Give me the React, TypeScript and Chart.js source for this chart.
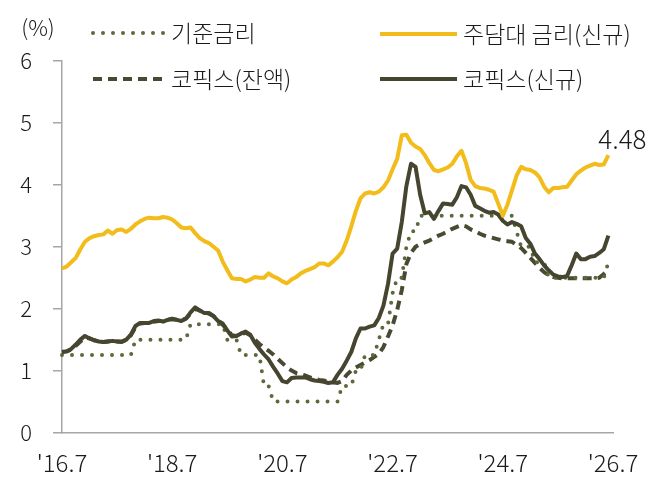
import { useEffect, useRef } from 'react';
import { Chart, registerables } from 'chart.js';
import type { Plugin } from 'chart.js';

Chart.register(...registerables);

const FONT = '"Noto Sans CJK KR", "Noto Sans", sans-serif';
const TEXT = '#1a1a1a';
const AXIS = '#a6a6a6';

// monthly categories from '16.7 to '26.7
const months: string[] = [];
for (let y = 16; y <= 26; y++) {
	for (let m = 1; m <= 12; m++) {
		if ((y === 16 && m < 7) || (y === 26 && m > 7)) continue;
		months.push(`'${y}.${m}`);
	}
}
const tickLabels = ["'16.7", "'18.7", "'20.7", "'22.7", "'24.7", "'26.7"];

const seriesNames = ['주담대 금리(신규)', '코픽스(신규)', '기준금리', '코픽스(잔액)'];

// 주담대 금리(신규), from '16.7 monthly
const mortgageNew = [
	2.65, 2.68, 2.75, 2.82, 2.96, 3.08, 3.14, 3.17, 3.19, 3.2, 3.26, 3.21,
	3.27, 3.28, 3.24, 3.29, 3.36, 3.41, 3.45, 3.47, 3.46, 3.46, 3.48, 3.47,
	3.44, 3.38, 3.31, 3.3, 3.31, 3.22, 3.14, 3.09, 3.06, 3.0, 2.94, 2.76,
	2.62, 2.49, 2.48, 2.48, 2.44, 2.47, 2.51, 2.5, 2.5, 2.57, 2.52, 2.49,
	2.44, 2.41, 2.47, 2.51, 2.57, 2.61, 2.64, 2.67, 2.73, 2.73, 2.7, 2.76,
	2.83, 2.92, 3.1, 3.33, 3.58, 3.78, 3.86, 3.88, 3.86, 3.89, 3.96, 4.07,
	4.25, 4.42, 4.8, 4.81, 4.68, 4.62, 4.58, 4.48, 4.35, 4.24, 4.22, 4.25,
	4.28, 4.34, 4.46, 4.55, 4.35, 4.08, 3.98, 3.95, 3.94, 3.92, 3.89, 3.7,
	3.5, 3.68, 3.91, 4.15, 4.29, 4.25, 4.24, 4.2, 4.12, 3.97, 3.88, 3.95,
	3.95, 3.96, 3.97, 4.07, 4.17, 4.23, 4.28, 4.31, 4.34, 4.32, 4.33, 4.48,
];

// 코픽스(신규)
const cofixNew = [
	1.3, 1.31, 1.35, 1.42, 1.5, 1.56, 1.52, 1.49, 1.47, 1.46, 1.47, 1.48,
	1.47, 1.46, 1.5, 1.58, 1.72, 1.77, 1.77, 1.77, 1.8, 1.81, 1.79, 1.82,
	1.84, 1.82, 1.8, 1.84, 1.94, 2.02, 1.97, 1.93, 1.93, 1.88, 1.8, 1.76,
	1.65, 1.55, 1.56, 1.6, 1.63, 1.58, 1.45, 1.35, 1.26, 1.18, 1.06, 0.95,
	0.83, 0.81, 0.88, 0.89, 0.89, 0.89, 0.86, 0.84, 0.83, 0.82, 0.8, 0.81,
	0.93, 1.03, 1.16, 1.3, 1.52, 1.68, 1.68, 1.71, 1.73, 1.85, 2.05, 2.4,
	2.89, 2.97, 3.4, 3.98, 4.34, 4.29, 3.84, 3.54, 3.56, 3.45, 3.58, 3.7,
	3.69, 3.68, 3.8, 3.98, 3.96, 3.84, 3.66, 3.62, 3.58, 3.55, 3.56, 3.52,
	3.42, 3.36, 3.4, 3.37, 3.33, 3.14, 3.05, 2.89, 2.8, 2.7, 2.62, 2.55,
	2.52, 2.51, 2.53, 2.7, 2.89, 2.8, 2.8, 2.84, 2.85, 2.9, 2.96, 3.18,
];

// 기준금리
const baseRate = [
	1.25, 1.25, 1.25, 1.25, 1.25, 1.25, 1.25, 1.25, 1.25, 1.25, 1.25, 1.25,
	1.25, 1.25, 1.25, 1.25, 1.5, 1.5, 1.5, 1.5, 1.5, 1.5, 1.5, 1.5,
	1.5, 1.5, 1.5, 1.5, 1.75, 1.75, 1.75, 1.75, 1.75, 1.75, 1.75, 1.75,
	1.5, 1.5, 1.5, 1.25, 1.25, 1.25, 1.25, 1.25, 0.75, 0.75, 0.5, 0.5,
	0.5, 0.5, 0.5, 0.5, 0.5, 0.5, 0.5, 0.5, 0.5, 0.5, 0.5, 0.5,
	0.5, 0.75, 0.75, 0.75, 1.0, 1.0, 1.25, 1.25, 1.25, 1.5, 1.75, 1.75,
	2.25, 2.5, 2.5, 3.0, 3.25, 3.25, 3.5, 3.5, 3.5, 3.5, 3.5, 3.5,
	3.5, 3.5, 3.5, 3.5, 3.5, 3.5, 3.5, 3.5, 3.5, 3.5, 3.5, 3.5,
	3.5, 3.5, 3.5, 3.25, 3.0, 3.0, 3.0, 2.75, 2.75, 2.75, 2.5, 2.5,
	2.5, 2.5, 2.5, 2.5, 2.5, 2.5, 2.5, 2.5, 2.5, 2.5, 2.5, 2.75,
];

// 코픽스(잔액)
const cofixBalance = [
	1.3, 1.31, 1.34, 1.4, 1.47, 1.53, 1.52, 1.49, 1.47, 1.46, 1.47, 1.48,
	1.47, 1.47, 1.5, 1.57, 1.7, 1.76, 1.77, 1.77, 1.79, 1.8, 1.8, 1.82,
	1.83, 1.82, 1.81, 1.84, 1.92, 2.0, 1.97, 1.93, 1.92, 1.88, 1.81, 1.74,
	1.66, 1.57, 1.56, 1.59, 1.61, 1.57, 1.5, 1.43, 1.37, 1.32, 1.26, 1.19,
	1.12, 1.05, 1.0, 0.96, 0.94, 0.92, 0.89, 0.87, 0.85, 0.84, 0.82, 0.81,
	0.8, 0.83, 0.93, 1.0, 1.05, 1.09, 1.13, 1.17, 1.22, 1.27, 1.38, 1.55,
	1.73, 1.98, 2.3, 2.72, 2.9, 3.0, 3.04, 3.07, 3.1, 3.14, 3.18, 3.21,
	3.25, 3.29, 3.32, 3.35, 3.33, 3.28, 3.25, 3.21, 3.18, 3.16, 3.14, 3.12,
	3.1, 3.09, 3.08, 3.03, 2.98, 2.9, 2.82, 2.74, 2.66, 2.59, 2.54, 2.51,
	2.5, 2.49, 2.49, 2.49, 2.49, 2.49, 2.49, 2.49, 2.49, 2.5, 2.56, 2.63,
];

// legend sample positions, same order as datasets
const legendSlots = [
	{ x: 380, y: 34, len: 77 },
	{ x: 380, y: 79, len: 77 },
	{ x: 93, y: 33, len: 72 },
	{ x: 93, y: 79, len: 72 },
];

const overlay: Plugin<'line'> = {
	id: 'overlay',
	afterDraw(chart) {
		const { ctx } = chart;
		ctx.save();
		ctx.fillStyle = TEXT;
		ctx.textBaseline = 'middle';
		ctx.textAlign = 'center';
		ctx.font = `300 22px ${FONT}`;
		ctx.fillText('(%)', 38, 28);

		ctx.font = `300 23px ${FONT}`;
		ctx.textAlign = 'left';
		chart.data.datasets.forEach((ds: any, i) => {
			const s = legendSlots[i];
			ctx.save();
			ctx.strokeStyle = ds.borderColor;
			ctx.lineWidth = ds.borderWidth;
			ctx.setLineDash(ds.borderDash ?? []);
			ctx.lineCap = ds.borderCapStyle ?? 'butt';
			ctx.beginPath();
			ctx.moveTo(s.x, s.y);
			ctx.lineTo(s.x + s.len, s.y);
			ctx.stroke();
			ctx.restore();
			ctx.fillText(ds.label, s.x + s.len + 6, s.y);
		});

		// last value of 주담대 금리
		const meta = chart.getDatasetMeta(0);
		const last = meta.data[meta.data.length - 1];
		const v = mortgageNew[mortgageNew.length - 1];
		ctx.font = `300 26px ${FONT}`;
		ctx.textAlign = 'center';
		ctx.fillText(v.toFixed(2), last.x + 14, last.y - 16);
		ctx.restore();
	},
};

export default function App() {
	const chartRef = useRef<HTMLCanvasElement>(null);

	useEffect(() => {
		if (!chartRef.current) return;
		const chart = new Chart(chartRef.current, {
			type: 'line',
			data: {
				labels: months,
				datasets: [
					{ label: seriesNames[0], data: mortgageNew, borderColor: '#F2BC1B', borderWidth: 4 },
					{ label: seriesNames[1], data: cofixNew, borderColor: '#46452F', borderWidth: 4 },
					{
						label: seriesNames[2],
						data: baseRate,
						borderColor: '#5A6A3A',
						borderWidth: 4,
						borderDash: [0, 10],
						borderCapStyle: 'round',
					},
					{
						label: seriesNames[3],
						data: cofixBalance,
						borderColor: '#4A4931',
						borderWidth: 4,
						borderDash: [9, 6],
					},
				],
			},
			options: {
				responsive: true,
				maintainAspectRatio: false,
				animation: false,
				layout: { padding: { top: 61, right: 43, left: 0, bottom: 0 } },
				plugins: { legend: { display: false }, tooltip: { enabled: false } },
				elements: {
					point: { radius: 0 },
					line: { tension: 0, borderJoinStyle: 'round' },
				},
				scales: {
					x: {
						type: 'category',
						offset: false,
						grid: { display: false, drawTicks: false },
						border: { display: true, color: AXIS, width: 1.5 },
						ticks: {
							autoSkip: false,
							maxRotation: 0,
							minRotation: 0,
							padding: 16,
							color: TEXT,
							font: { size: 24, family: FONT, weight: '300' },
							callback: (_v, i) => (tickLabels.includes(months[i]) ? months[i] : ''),
						},
						afterFit: (s) => {
							s.height = 47.5;
						},
					},
					y: {
						min: 0,
						max: 6,
						ticks: {
							stepSize: 1,
							padding: 21,
							color: TEXT,
							font: { size: 22, family: FONT, weight: '300' },
						},
						grid: { drawOnChartArea: false, drawTicks: true, tickLength: 9, color: AXIS, lineWidth: 1.5 },
						border: { color: AXIS, width: 1.5 },
						afterFit: (s) => {
							s.width = 62;
						},
					},
				},
			},
			plugins: [overlay],
		});
		return () => chart.destroy();
	}, []);

	return (
		<div style={{ position: 'fixed', left: 0, top: 0, width: 656, height: 480, background: '#fff' }}>
			<canvas ref={chartRef}></canvas>
		</div>
	);
}
